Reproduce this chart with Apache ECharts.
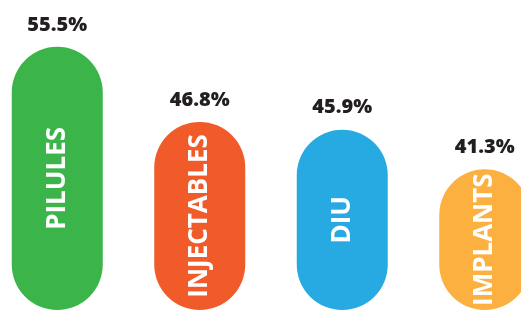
<!DOCTYPE html>
<html>
<head>
<meta charset="utf-8">
<script src="https://cdn.jsdelivr.net/npm/echarts@6/dist/echarts.min.js"></script>
<style>
  html, body { margin: 0; padding: 0; background: #fff; overflow: hidden; }
  #wrap { width: 521px; height: 311px; overflow: hidden; position: relative; }
  /* la dernière barre est coupée par le bord droit */
  #chart { width: 570px; height: 311px; position: absolute; left: -14px; top: 0; }
</style>
</head>
<body>
<div id="wrap"><div id="chart"></div></div>
<script>
// méthodes contraceptives
const categories = ['PILULES', 'INJECTABLES', 'DIU', 'IMPLANTS'];
const values = [55.5, 46.8, 45.9, 41.3];
const colors = ['#3bb54a', '#f15a29', '#27aae1', '#fbb040'];

(function () {
    let myChart = echarts.init(document.getElementById('chart'));
    let option = {
        animation: false,
        grid: {
            left: 0,
            right: 0,
            top: 8,
            bottom: 1,
            containLabel: false
        },
        xAxis: {
            type: 'category',
            data: categories,
            show: false
        },
        yAxis: {
            type: 'value',
            min: 25,
            max: 60,
            show: false
        },
        series: [{
            // barres en forme de pilule + nom dedans
            type: 'bar',
            barWidth: 91,
            data: values.map((v, i) => ({ value: v, itemStyle: { color: colors[i] } })),
            itemStyle: {
                borderRadius: 45.5
            },
            label: {
                show: true,
                position: 'inside',
                rotate: 90,
                formatter: '{b}',
                color: '#fff',
                fontFamily: 'Open Sans',
                fontWeight: 'bold',
                fontSize: 26
            }
        }, {
            // valeurs au-dessus
            type: 'bar',
            barWidth: 91,
            barGap: '-100%',
            data: values,
            itemStyle: { color: 'rgba(0,0,0,0)' },
            label: {
                show: true,
                position: 'top',
                distance: 12,
                formatter: '{c}%',
                color: '#231f20',
                fontFamily: 'Open Sans',
                fontWeight: 800,
                fontSize: 20
            }
        }]
    };
    myChart.setOption(option);
    window.addEventListener('resize', function () {
        myChart.resize();
    });
})();
</script>
</body>
</html>
